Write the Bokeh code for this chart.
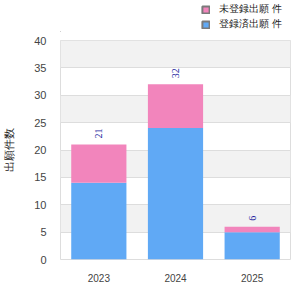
import math
from bokeh.plotting import figure
from bokeh.layouts import column
from bokeh.models import ColumnDataSource, Legend, LegendItem, LabelSet, FixedTicker
from bokeh.embed import file_html
from bokeh.resources import INLINE

years = ["2023", "2024", "2025"]
registered = [14, 24, 5]
pending = [7, 8, 1]
totals = [a + b for a, b in zip(registered, pending)]
y_ticks = [0, 5, 10, 15, 20, 25, 30, 35, 40]

label_blue = "登録済出願 件"
label_pink = "未登録出願 件"
y_label = "出願件数"

BLUE = "#60a9f5"
PINK = "#f285bc"
FONT = "Liberation Sans"

src = ColumnDataSource(dict(years=years, registered=registered, pending=pending,
                            totals=totals, tlabels=[str(t) for t in totals]))

# ---- legend strip ----
lg = figure(width=300, height=32, x_range=(0, 1), y_range=(0, 1),
            output_backend="svg", toolbar_location=None,
            min_border=0, outline_line_color=None)
lg.axis.visible = False
lg.grid.visible = False
proxy = ColumnDataSource(dict(x=[-10], top=[-10]))
r_pink = lg.vbar(x="x", top="top", width=0.5, source=proxy, fill_color=PINK,
                 line_color="#7a7a7a", line_width=2)
r_blue = lg.vbar(x="x", top="top", width=0.5, source=proxy, fill_color=BLUE,
                 line_color="#7a7a7a", line_width=2)
legend = Legend(items=[LegendItem(label=label_pink, renderers=[r_pink]),
                       LegendItem(label=label_blue, renderers=[r_blue])],
                orientation="vertical", location=(141, 1),
                glyph_width=9, glyph_height=9, label_text_font_size="10px",
                label_text_font=FONT, label_text_color="#222222",
                spacing=1, padding=2, margin=0, label_standoff=9,
                border_line_color=None, background_fill_alpha=0)
lg.add_layout(legend, "center")

# ---- main chart ----
p = figure(x_range=years, y_range=(0, 40), width=300, height=268,
           output_backend="svg", toolbar_location=None,
           min_border_left=5, min_border_right=10, min_border_bottom=41, min_border_top=8)

p.vbar_stack(["registered", "pending"], x="years", width=0.72, source=src,
             color=[BLUE, PINK], line_color=None)

labels = LabelSet(x="years", y="totals", text="tlabels", source=src, angle=math.pi / 2,
                  text_align="left", text_baseline="middle", y_offset=6,
                  text_font_size="10px", text_color="#1c1c9e", text_font="DejaVu Sans")
p.add_layout(labels)

p.background_fill_color = "white"
p.border_fill_color = "white"
p.outline_line_color = "#dddddd"

p.xgrid.grid_line_color = None
p.ygrid.grid_line_color = "#dddddd"
p.ygrid.band_fill_color = "#f2f2f2"
p.ygrid.band_fill_alpha = 1.0

p.yaxis.ticker = FixedTicker(ticks=y_ticks)
p.yaxis.axis_label = y_label
p.yaxis.axis_label_text_font_size = "11px"
p.yaxis.axis_label_text_font_style = "normal"
p.yaxis.axis_label_text_color = "#222222"
p.yaxis.axis_label_standoff = 16

for ax in (p.xaxis[0], p.yaxis[0]):
    ax.axis_line_color = None
    ax.major_tick_line_color = None
    ax.minor_tick_line_color = None
    ax.major_label_text_color = "#444444"
    ax.major_label_text_font = FONT
p.yaxis.major_label_text_font_size = "11px"
p.xaxis.major_label_text_font_size = "10px"
p.yaxis.major_label_standoff = 8
p.xaxis.major_label_standoff = 8

open("out.html", "w").write(file_html(column(lg, p, spacing=0), INLINE))
